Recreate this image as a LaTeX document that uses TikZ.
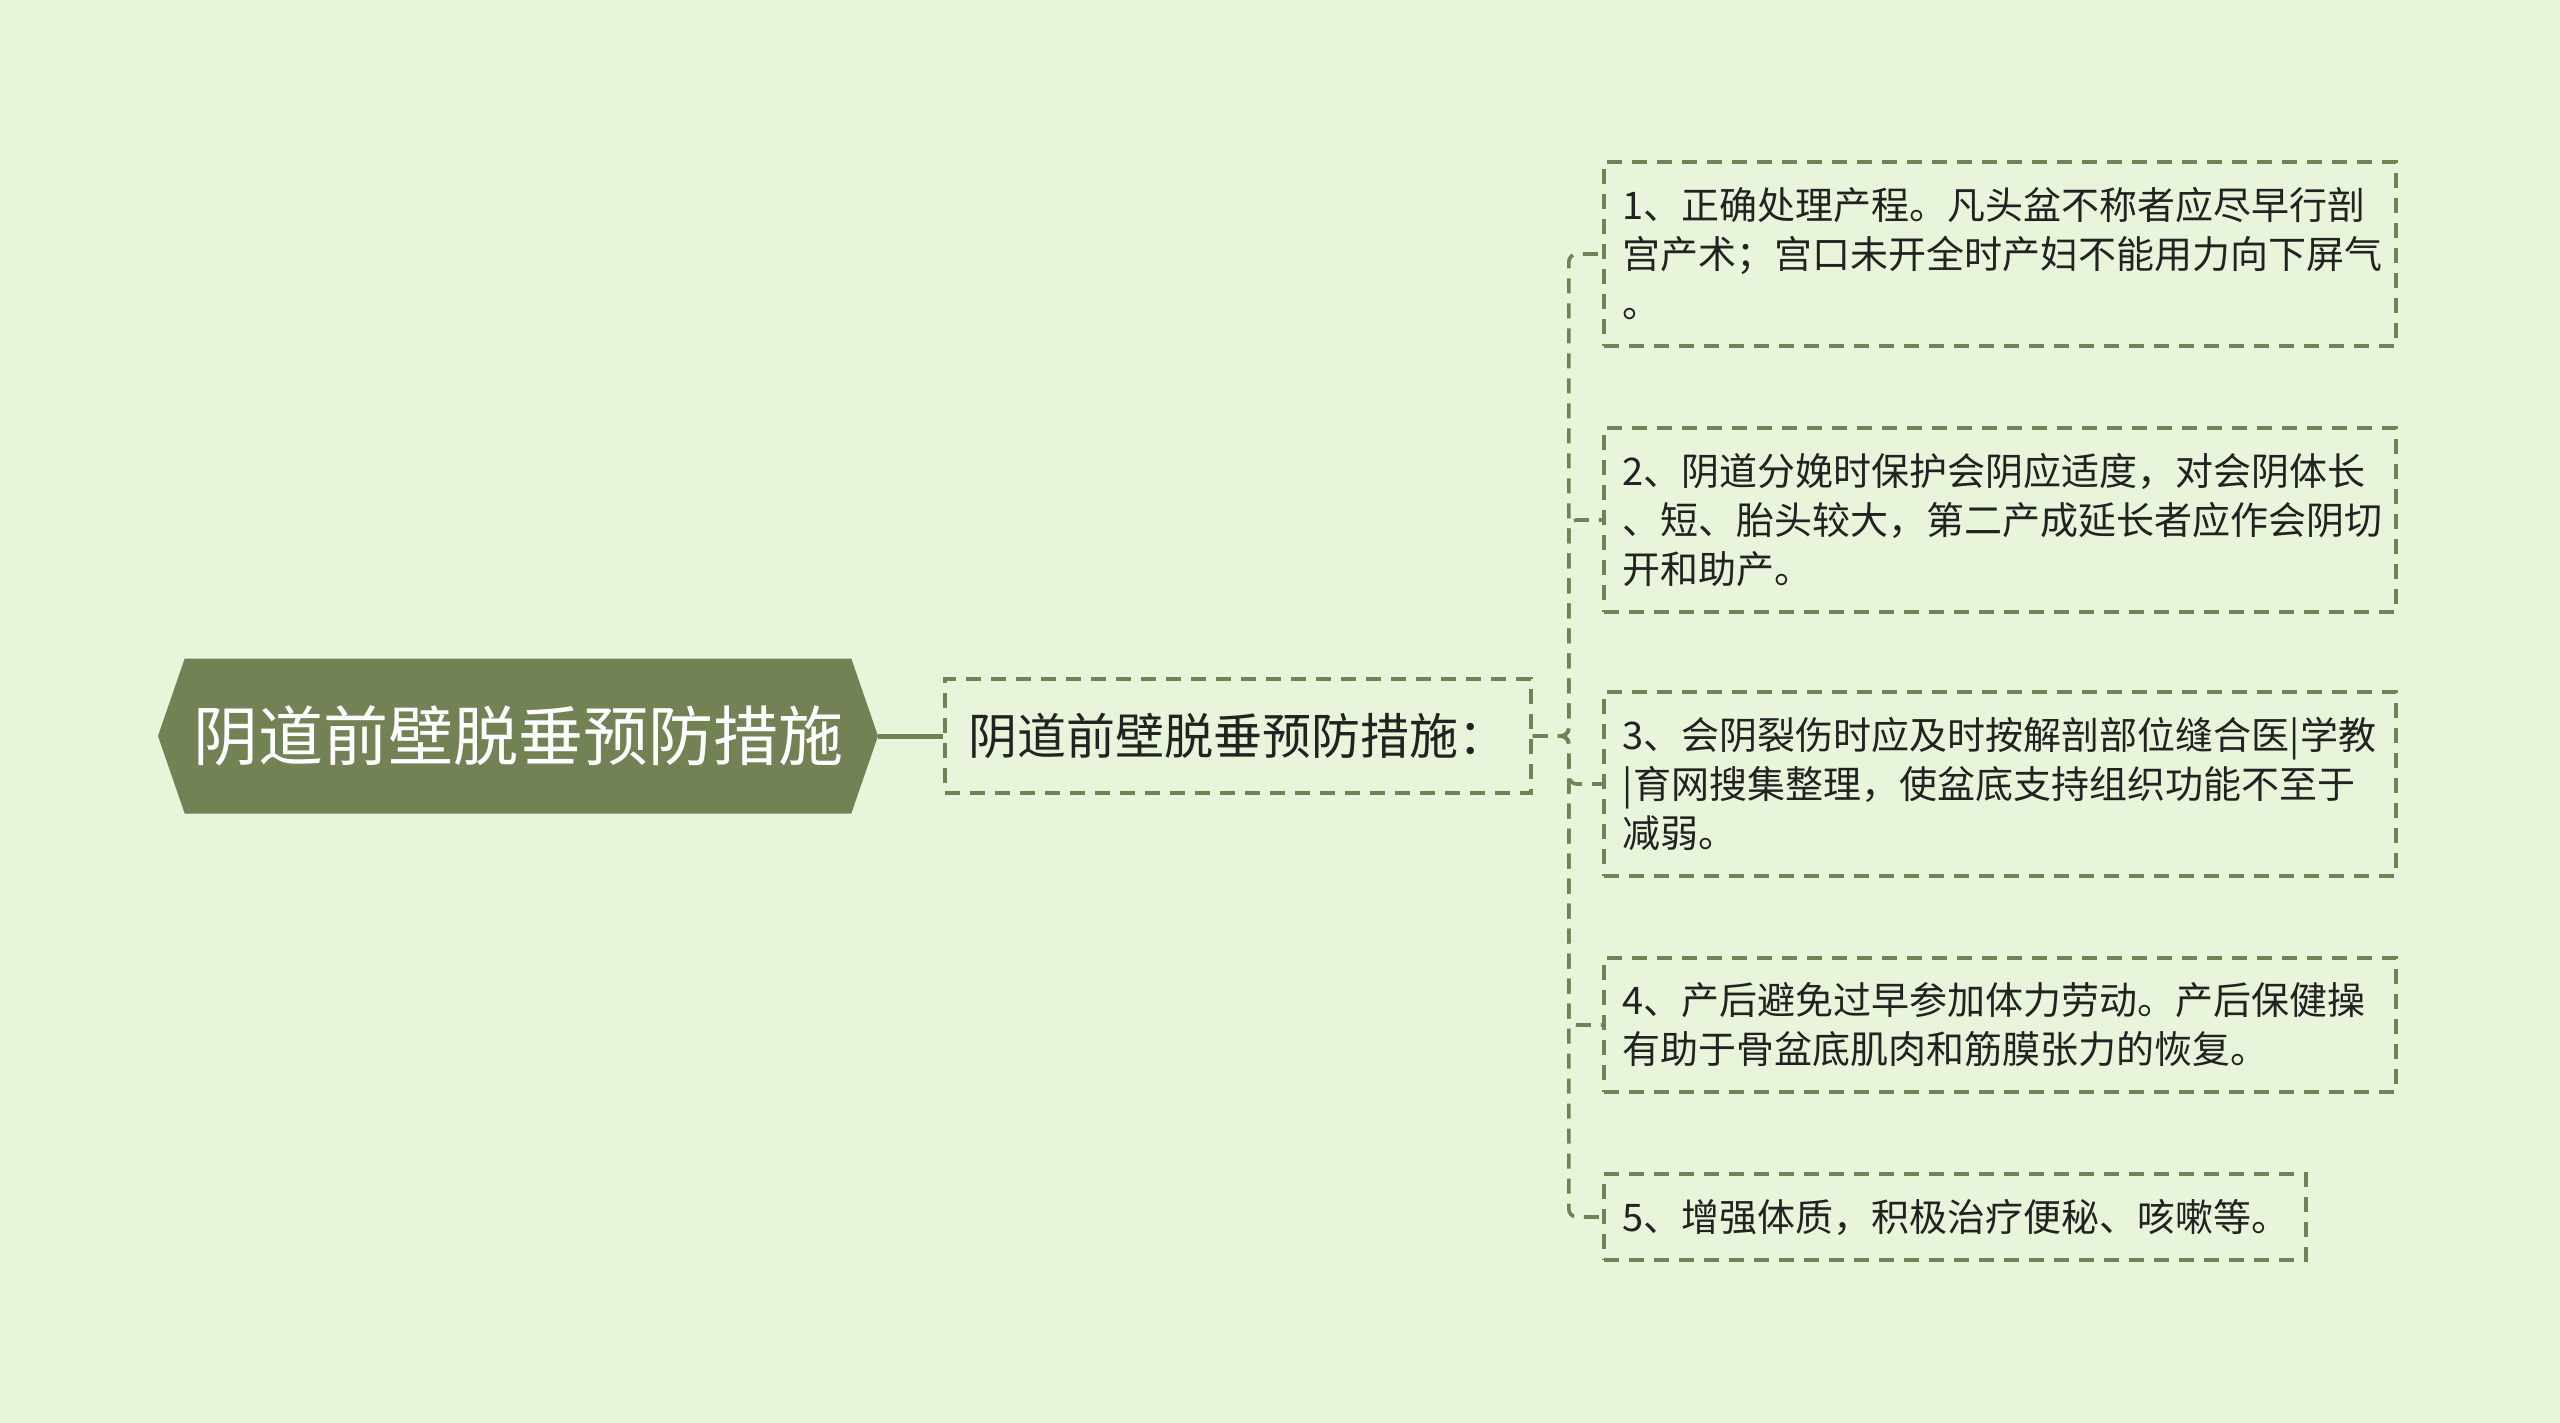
\documentclass[tikz,border=0pt]{standalone}
\usepackage{fontspec}
\setmainfont{Noto Sans CJK SC}
\usetikzlibrary{shapes.symbols}
\definecolor{bgcol}{RGB}{232,245,218}
\definecolor{olive}{RGB}{115,130,84}
\definecolor{ink}{RGB}{34,34,34}
\tikzset{
    mapnode/.style={align=left, inner sep=0pt, text=ink},
    root/.style={mapnode, signal, signal to=east and west, signal pointer angle=142, fill=olive, text=white, minimum width=360pt, minimum height=77.5pt, font=\fontsize{32.5}{36}\selectfont},
    topic/.style={mapnode, draw=olive, line width=1.8pt, dash pattern=on 7.5pt off 5pt, minimum width=293pt, minimum height=57pt, font=\fontsize{24.5}{30}\selectfont},
    leaf/.style={mapnode, draw=olive, line width=1.8pt, dash pattern=on 7.5pt off 5pt, anchor=west, inner xsep=9.5pt, text width=377pt, font=\fontsize{19}{24.5}\selectfont},
    link/.style={draw=olive, line width=1.8pt, dash pattern=on 7.5pt off 5pt, rounded corners=4pt},
    trunk/.style={draw=olive, line width=2.5pt}
}

\begin{document}
\begin{tikzpicture}[x=0.5pt, y=-0.5pt]
\fill[bgcol] (0,0) rectangle (2560,1423);
\useasboundingbox (0,0) rectangle (2560,1423);

\node[root] (root) at (518,736) {阴道前壁脱垂预防措施};
\node[topic] (topic) at (1238,736) {阴道前壁脱垂预防措施：};

\node[leaf, minimum height=92pt] (leaf1) at (1602,254)
    {1、正确处理产程。凡头盆不称者应尽早行剖\\宫产术；宫口未开全时产妇不能用力向下屏气\\。};
\node[leaf, minimum height=92pt] (leaf2) at (1602,520)
    {2、阴道分娩时保护会阴应适度，对会阴体长\\、短、胎头较大，第二产成延长者应作会阴切\\开和助产。};
\node[leaf, minimum height=92pt] (leaf3) at (1602,784)
    {3、会阴裂伤时应及时按解剖部位缝合医|学教\\|育网搜集整理，使盆底支持组织功能不至于\\减弱。};
\node[leaf, minimum height=67pt] (leaf4) at (1602,1025)
    {4、产后避免过早参加体力劳动。产后保健操\\有助于骨盆底肌肉和筋膜张力的恢复。};
\node[leaf, minimum height=43pt, text width=332pt] (leaf5) at (1602,1217)
    {5、增强体质，积极治疗便秘、咳嗽等。};

\draw[trunk] (root.east) -- (topic.west);
\foreach \n in {1,...,5}
    \draw[link] (topic.east) -- ++(36,0) |- (leaf\n.west);

\end{tikzpicture}
\end{document}
